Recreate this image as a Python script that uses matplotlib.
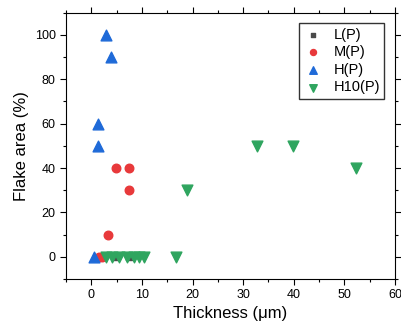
import matplotlib
matplotlib.use("Agg")
import matplotlib.pyplot as plt
from matplotlib.ticker import MultipleLocator

plt.rcParams['font.family'] = ['Liberation Sans', 'DejaVu Sans']

# data
l_x = [4.8, 7.4]
l_y = [0, 0]

m_x = [1.5, 2.2, 3.3, 4.8, 7.5, 7.4]
m_y = [0, 0, 10, 40, 40, 30]

h_x = [0.5, 1.3, 1.3, 3.0, 3.8]
h_y = [0, 50, 60, 100, 90]

h10_x = [3.0, 4.0, 5.5, 7.0, 8.5, 9.5, 10.5, 16.8, 18.9, 32.8, 39.9, 52.3]
h10_y = [0, 0, 0, 0, 0, 0, 0, 0, 30, 50, 50, 40]

fig = plt.figure(figsize=(4.02, 3.33), dpi=100)
ax = fig.add_axes([66/402, 1 - 279/333, (395 - 66)/402, (279 - 12.7)/333])

ax.scatter(l_x, l_y, marker='s', s=22, color='#4a4a4a', label='L(P)', zorder=3)
ax.scatter(m_x, m_y, marker='o', s=38, color='#e8393b', label='M(P)', zorder=3)
ax.scatter(h_x, h_y, marker='^', s=60, color='#1f6ad8', label='H(P)', zorder=3)
ax.scatter(h10_x, h10_y, marker='v', s=60, color='#2fa55f', label='H10(P)', zorder=3)

ax.set_xlim(-5, 60)
ax.set_ylim(-10, 110)
ax.xaxis.set_major_locator(MultipleLocator(10))
ax.xaxis.set_minor_locator(MultipleLocator(5))
ax.yaxis.set_major_locator(MultipleLocator(20))
ax.yaxis.set_minor_locator(MultipleLocator(10))
ax.tick_params(which='both', direction='out', top=True, right=True, labelsize=9)
ax.tick_params(which='major', length=4, width=0.8)
ax.tick_params(which='minor', length=2.5, width=0.8)

ax.set_xlabel('Thickness (μm)', fontsize=12, labelpad=3)
ax.set_ylabel('Flake area (%)', fontsize=12, labelpad=4)

leg = ax.legend(loc='upper right', fontsize=10.5, frameon=True, fancybox=False,
                edgecolor='black', handletextpad=0.7, borderpad=0.3,
                labelspacing=0.25, handlelength=1.4, markerscale=0.7,
                bbox_to_anchor=(0.99, 0.988))
leg.get_frame().set_linewidth(1.0)

fig.savefig('out.png', dpi=100)
